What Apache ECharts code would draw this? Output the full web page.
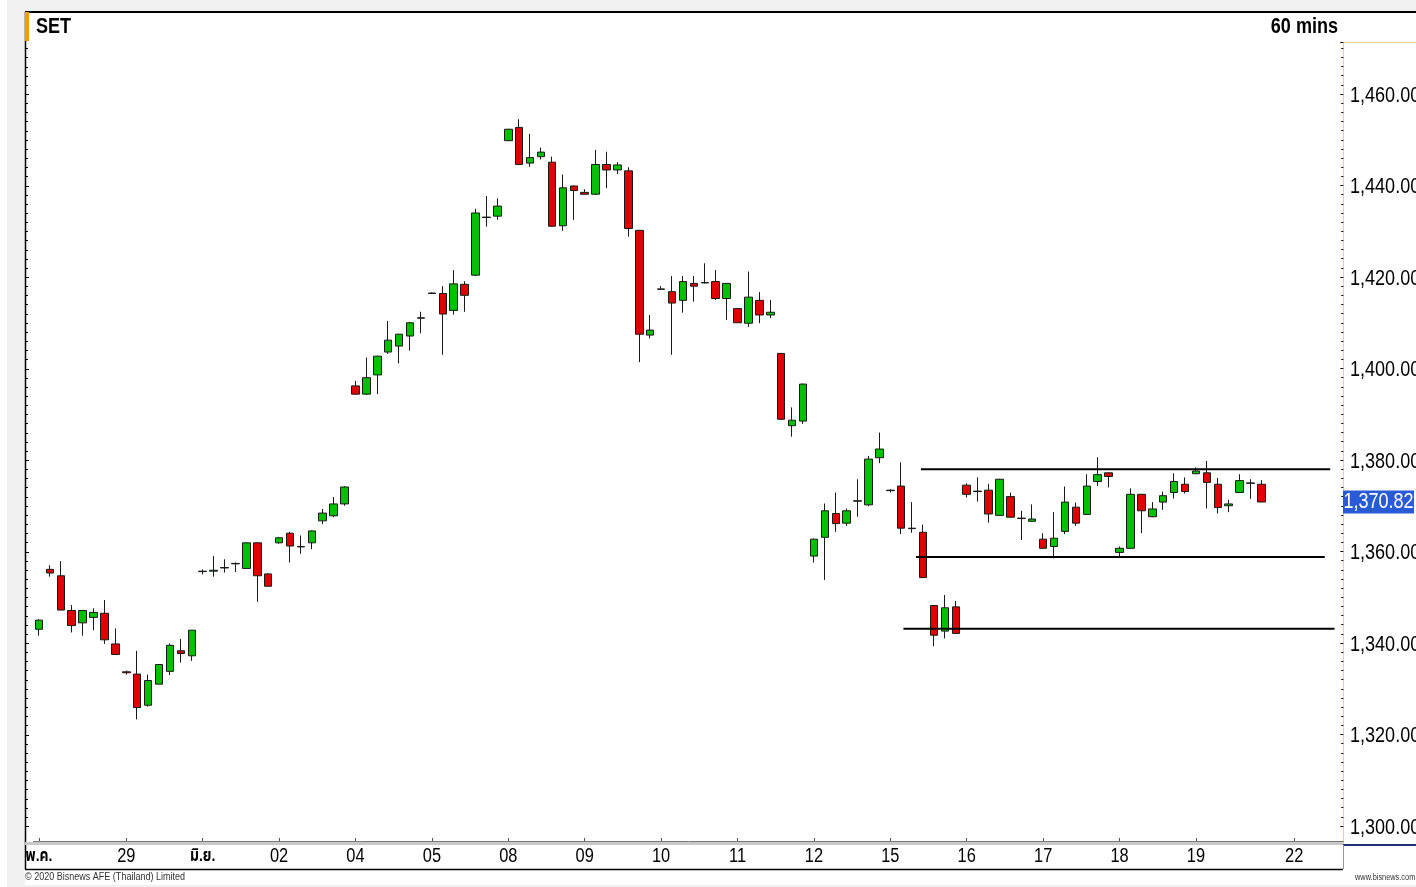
<!DOCTYPE html>
<html>
<head>
<meta charset="utf-8">
<script src="https://cdn.jsdelivr.net/npm/echarts@6/dist/echarts.min.js"></script>
<style>
html,body{margin:0;padding:0;background:#fff;}
#c{width:1416px;height:887px;}
</style>
</head>
<body>
<div id="c"></div>
<script>
// ---- data ----
const openV  = [1343.0,1356.1,1354.7,1347.1,1344.4,1345.6,1346.5,1339.8,1333.7,1333.2,1326.4,1331.0,1333.8,1338.3,1337.2,
1355.6,1355.7,1356.4,1357.3,1356.3,1361.9,1355.1,
1361.9,1364.0,1361.0,1361.9,1366.7,1367.8,1370.4,
1396.2,1394.4,1398.6,1403.6,1404.9,1407.1,1411.0,
1416.5,1416.4,1412.7,1418.4,1420.4,1433.0,1433.3,
1449.8,1452.7,1444.9,1446.3,1445.1,1431.2,1439.9,
1438.5,1438.1,1444.6,1443.4,1443.2,1430.2,1407.3,
1417.4,1416.8,1414.9,1418.6,1418.8,1419.0,1415.3,
1413.1,1409.9,1414.9,1411.7,1403.3,1387.5,1388.5,
1359.0,1363.1,1368.3,1366.2,1371.0,1370.2,1380.5,
1373.4,1374.3,1365.0,1364.2,1348.2,1342.6,1347.9,
1374.5,1373.1,1373.4,1367.9,1372.0,1367.2,1366.6,
1362.7,1361.1,1364.4,1369.7,1368.1,1375.3,1377.2,
1359.8,1360.7,1372.5,1367.6,1370.8,1372.9,1374.7,
1377.0,1377.2,1374.7,1370.0,1372.9,1374.9,1374.7];
const closeV = [1345.0,1355.3,1347.2,1343.8,1347.1,1346.7,1340.7,1337.5,1333.5,1325.9,1331.8,1335.3,1339.5,1337.7,1342.8,
1355.7,1355.9,1356.5,1357.4,1361.9,1354.7,1352.4,
1363.0,1361.2,1361.1,1364.5,1368.4,1370.4,1374.1,
1394.4,1398.0,1402.7,1406.2,1407.5,1410.0,1411.1,
1416.4,1411.9,1418.5,1416.0,1434.0,1433.1,1435.5,
1452.3,1444.6,1446.1,1447.3,1431.1,1439.5,1438.9,
1438.1,1444.6,1443.4,1444.5,1430.6,1407.5,1408.4,
1417.3,1414.3,1419.0,1418.0,1418.7,1415.3,1418.6,
1410.0,1415.6,1411.7,1412.3,1388.9,1388.7,1396.6,
1362.7,1368.9,1366.1,1368.9,1371.1,1380.2,1382.4,
1373.3,1365.1,1365.1,1354.3,1341.7,1347.7,1342.1,
1372.5,1373.2,1368.2,1375.8,1367.5,1367.3,1367.1,
1360.7,1362.9,1370.8,1366.2,1374.3,1376.8,1376.4,
1360.7,1372.5,1368.9,1369.3,1372.2,1375.3,1373.1,
1377.6,1375.1,1369.6,1370.4,1375.5,1375.0,1370.82];
const lowV   = [1341.6,1354.5,1347.2,1342.3,1341.6,1342.8,1339.8,1337.5,1333.1,1323.3,1326.1,1331.0,1333.0,1335.7,1336.1,
1355.0,1354.5,1355.4,1355.5,1356.3,1349.0,1352.4,
1361.7,1357.6,1359.5,1360.5,1366.0,1367.5,1370.0,
1394.3,1394.2,1394.4,1403.2,1401.1,1403.9,1407.7,
1416.3,1403.0,1411.8,1412.4,1420.2,1431.0,1432.5,
1449.7,1444.5,1444.1,1445.7,1431.0,1430.1,1432.5,
1438.0,1437.9,1439.4,1442.5,1428.8,1401.4,1406.6,
1417.2,1403.0,1412.2,1414.6,1418.6,1415.0,1410.6,
1410.0,1409.1,1409.9,1411.0,1388.8,1385.1,1387.9,
1357.6,1353.8,1364.3,1365.6,1367.6,1369.9,1379.3,
1372.9,1363.8,1364.1,1354.2,1339.3,1341.0,1342.0,
1371.8,1370.9,1366.3,1367.8,1367.4,1362.5,1366.5,
1360.6,1358.5,1363.8,1365.6,1368.0,1374.3,1374.0,
1358.7,1360.6,1364.0,1367.5,1369.1,1371.6,1372.7,
1376.9,1369.4,1368.3,1368.6,1372.8,1371.5,1370.8];
const highV  = [1345.2,1357.0,1357.9,1348.3,1347.2,1347.6,1349.4,1343.2,1334.0,1338.3,1333.1,1335.3,1339.9,1340.9,1342.8,
1356.1,1359.0,1358.3,1357.6,1362.0,1362.0,1355.3,
1363.2,1364.3,1363.5,1364.6,1369.3,1371.9,1374.3,
1397.3,1402.4,1402.8,1410.4,1407.6,1410.2,1412.4,
1416.6,1418.0,1421.5,1419.1,1434.9,1437.7,1437.2,
1452.4,1454.5,1451.3,1448.3,1446.3,1442.4,1440.0,
1439.2,1447.8,1447.4,1445.1,1444.0,1430.3,1411.7,
1418.0,1420.2,1420.2,1420.2,1423.0,1421.5,1418.7,
1413.2,1421.2,1416.7,1415.0,1403.4,1391.5,1396.7,
1362.8,1370.5,1372.9,1369.4,1375.8,1380.9,1386.0,
1373.6,1379.5,1370.8,1365.9,1348.3,1350.5,1349.2,
1374.9,1376.2,1374.8,1375.9,1372.9,1368.9,1370.3,
1364.0,1368.6,1374.2,1370.7,1376.9,1380.6,1377.3,
1361.1,1373.8,1372.6,1370.8,1373.1,1377.1,1376.2,
1378.4,1379.8,1376.1,1371.3,1376.9,1375.8,1375.6];
// x-axis date labels and the bar index where each day starts
const dayLabels = ['พ.ค.','29','มิ.ย.','02','04','05','08','09','10','11','12','15','16','17','18','19','22'];
const dayStartBar = [0,8,15,22,29,36,43,50,57,64,71,78,85,92,99,106,115];
const totalSlots = 120;
// y tick labels
const yTicks = [1300,1320,1340,1360,1380,1400,1420,1440,1460];
// support / resistance levels (value, from bar, to bar)
const levelValue = [1378.0, 1358.8, 1343.1];
const levelFrom  = [80.8, 80.35, 79.2];
const levelTo    = [118.3, 117.8, 118.7];
const lastPrice = 1370.82;

// ---- build ----
const categories = [];
for (let i = 0; i < totalSlots; i++) categories.push('');
dayStartBar.forEach((b, k) => { categories[b] = dayLabels[k]; });
const candles = openV.map((o, i) => [o, closeV[i], lowV[i], highV[i]]);

const FONT = "'Liberation Sans','Arial','Noto Sans Thai','Noto Sans',sans-serif";
const SX = 0.82; // narrow (condensed) look
const fmt = v => v.toLocaleString('en-US', {minimumFractionDigits: 2, maximumFractionDigits: 2});
const yMax = 1471.37;

const chart = echarts.init(document.getElementById('c'));
const labelIdx = (idx, val) => val !== '';

const levelSeries = levelValue.map((v, k) => ({
  type: 'line', xAxisIndex: 1, yAxisIndex: 0, symbol: 'none', silent: true,
  lineStyle: {color: '#000', width: 2}, z: 5,
  data: [[levelFrom[k], v], [levelTo[k], v]]
}));

chart.setOption({
  animation: false,
  backgroundColor: '#f0f0f0',
  grid: {left: 33.5, right: 72.7, top: 42, bottom: 61, containLabel: false, outerBoundsMode: 'none'},
  xAxis: [{
    type: 'category', data: categories, boundaryGap: true, offset: 15,
    axisLine: {onZero: false, lineStyle: {color: '#7a7a7a', width: 1}},
    axisTick: {show: true, alignWithLabel: true, interval: labelIdx, inside: true, length: 3, lineStyle: {color: '#555'}},
    axisLabel: {show: false},
    splitLine: {show: false}
  }, {
    type: 'value', min: -0.5, max: totalSlots - 0.5, show: false, axisLine: {onZero: false}
  }],
  yAxis: [{
    type: 'value', position: 'right', min: yTicks[0], max: yMax, interval: 20,
    axisLine: {show: true, onZero: false, lineStyle: {color: '#e8d28c', width: 1}},
    axisTick: {show: true, inside: true, length: 3, lineStyle: {color: '#000'}},
    minorTick: {show: true, splitNumber: 10, length: 2, lineStyle: {color: '#000'}},
    axisLabel: {show: false},
    splitLine: {show: false}
  }],
  series: [{
    type: 'candlestick', xAxisIndex: 0, yAxisIndex: 0, data: candles, barWidth: 8,
    itemStyle: {color: '#00c000', color0: '#e00000', borderColor: '#1a1a1a', borderColor0: '#1a1a1a', borderWidth: 1},
    z: 3
  }].concat(levelSeries)
});

const txt = (text, x, y, size, opts) => Object.assign({
  type: 'text', silent: true, x: x, y: y, scaleX: SX, z: 50,
  style: Object.assign({text: text, fontFamily: FONT, fontSize: size, fill: '#000', textVerticalAlign: 'middle'}, (opts && opts.style) || {})
}, (opts && opts.el) || {});

const g = [
  {type: 'rect', z: -10, silent: true, shape: {x: 25, y: 12, width: 1391, height: 873}, style: {fill: '#fff'}},
  {type: 'rect', z: -10, silent: true, shape: {x: 0, y: 0, width: 7, height: 887}, style: {fill: '#fff'}},
  {type: 'line', silent: true, shape: {x1: 25, y1: 12, x2: 1416, y2: 12}, style: {stroke: '#000', lineWidth: 2}},
  {type: 'line', silent: true, shape: {x1: 25.5, y1: 12, x2: 25.5, y2: 869}, style: {stroke: '#000', lineWidth: 1.5}},
  {type: 'rect', silent: true, z: 40, shape: {x: 25, y: 12, width: 4, height: 29}, style: {fill: '#ff9800'}},
  txt('SET', 36, 27, 22, {style: {fontWeight: 'bold'}}),
  txt('60 mins', 1338, 27, 22, {style: {fontWeight: 'bold', textAlign: 'right'}}),
  {type: 'line', silent: true, shape: {x1: 1343, y1: 42.5, x2: 1416, y2: 42.5}, style: {stroke: '#e8d28c', lineWidth: 1}},
  {type: 'line', silent: true, shape: {x1: 1343.5, y1: 826, x2: 1343.5, y2: 845}, style: {stroke: '#e8d28c', lineWidth: 1}},
  {type: 'line', silent: true, shape: {x1: 1343, y1: 845, x2: 1416, y2: 845}, style: {stroke: '#1f2f7a', lineWidth: 2}},
  {type: 'rect', silent: true, shape: {x: 25, y: 842, width: 1318, height: 3}, style: {fill: '#c8c8c8'}},
  {type: 'line', silent: true, shape: {x1: 1343.5, y1: 845, x2: 1343.5, y2: 869}, style: {stroke: '#999', lineWidth: 1}},
  {type: 'line', silent: true, shape: {x1: 25, y1: 869.5, x2: 1343, y2: 869.5}, style: {stroke: '#000', lineWidth: 1.5}},
  txt('© 2020 Bisnews AFE (Thailand) Limited', 25, 877, 11, {style: {fill: '#333'}}),
  txt('www.bisnews.com', 1355, 878, 9, {style: {fill: '#333'}})
];

// left-side frame ticks (every 2 points, longer every 20), placed through the value scale
for (let v = yTicks[0]; v <= yMax; v += 2) {
  const y = Math.round(chart.convertToPixel({yAxisIndex: 0}, v)) + 0.5;
  const len = (v % 20 === 0) ? 3 : 2;
  g.push({type: 'line', silent: true, z: 30, shape: {x1: 26, y1: y, x2: 26 + len, y2: y}, style: {stroke: '#000', lineWidth: 1}});
}
// y-axis tick labels, placed through the axis scale
yTicks.forEach(v => {
  const y = chart.convertToPixel({yAxisIndex: 0}, v);
  g.push(txt(fmt(v), 1350, y + 1.5, 22));
});
// x-axis day labels, placed through the category axis
dayStartBar.forEach((b, k) => {
  const x = chart.convertToPixel({xAxisIndex: 0}, b);
  const thai = /[\u0E00-\u0E7F]/.test(dayLabels[k]);
  g.push(txt(dayLabels[k], x, 856, thai ? 17 : 20, {style: {textAlign: 'center', fontWeight: thai ? 'bold' : 'normal'}}));
});
// last price tag
const yLast = chart.convertToPixel({yAxisIndex: 0}, lastPrice);
g.push({type: 'rect', silent: true, z: 45, shape: {x: 1343, y: yLast - 11.5, width: 71, height: 23}, style: {fill: '#2a5bd7'}});
g.push(txt(fmt(lastPrice), 1378.5, yLast, 22, {style: {fill: '#fff', textAlign: 'center'}}));

chart.setOption({graphic: g});
</script>
</body>
</html>
